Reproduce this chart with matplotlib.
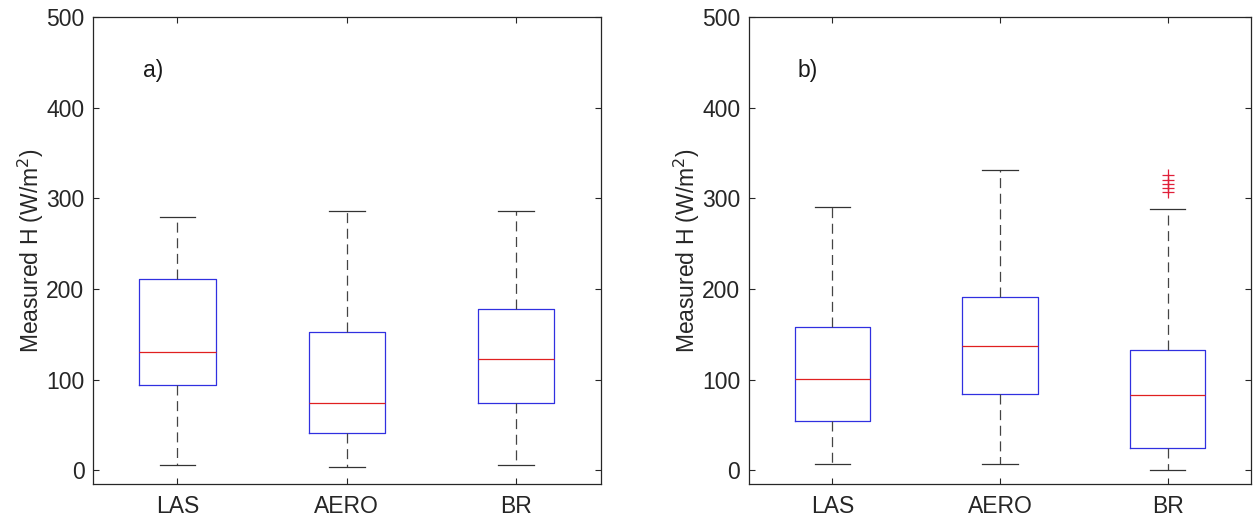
import matplotlib.pyplot as plt

plt.rcParams['font.family'] = ['Liberation Sans', 'DejaVu Sans']

methods = ['LAS', 'AERO', 'BR']

# panel a) five-number summaries
a_low = [6, 3, 6]
a_q1 = [94, 41.5, 74.5]
a_med = [130, 74, 123]
a_q3 = [210.5, 152, 178]
a_high = [279, 286, 286]
a_fliers = [[], [], []]

# panel b)
b_low = [7, 7, 0]
b_q1 = [54, 84.5, 24.5]
b_med = [100.5, 137.5, 83]
b_q3 = [157.5, 191, 132.5]
b_high = [290, 331.5, 288]
b_fliers = [[], [], [306.5, 311, 315.5, 320.5, 325.5]]

panel_tags = ['a)', 'b)']


def make_stats(low, q1, med, q3, high, fliers):
    stats = []
    for i, name in enumerate(methods):
        stats.append({'label': name, 'whislo': low[i], 'q1': q1[i],
                      'med': med[i], 'q3': q3[i], 'whishi': high[i],
                      'fliers': fliers[i]})
    return stats


fig = plt.figure(figsize=(12.54, 5.27), dpi=100)
ax_a = fig.add_axes([0.074, 0.082, 0.405, 0.886])
ax_b = fig.add_axes([0.597, 0.082, 0.401, 0.886])

panels = [
    (ax_a, make_stats(a_low, a_q1, a_med, a_q3, a_high, a_fliers), panel_tags[0]),
    (ax_b, make_stats(b_low, b_q1, b_med, b_q3, b_high, b_fliers), panel_tags[1]),
]

for ax, stats, tag in panels:
    ax.bxp(stats, widths=0.45, showfliers=True,
           boxprops=dict(color='#3030e0', linewidth=0.9),
           medianprops=dict(color='#e02020', linewidth=0.9),
           whiskerprops=dict(color='#444444', linewidth=0.9, linestyle=(0, (8, 4.5))),
           capprops=dict(color='#333333', linewidth=0.9),
           capwidths=0.21,
           flierprops=dict(marker='+', markeredgecolor='#e0203a', markersize=8,
                           markeredgewidth=0.9, linestyle='none'))
    ax.set_xlim(0.5, 3.5)
    ax.set_ylim(-15, 500)
    ax.set_yticks([0, 100, 200, 300, 400, 500])
    ax.set_ylabel('Measured H (W/m$^2$)', fontsize=16.5, color='#262626', labelpad=0)
    ax.text(0.855, 441, tag, fontsize=16.5, color='#1a1a1a', ha='center', va='center')
    ax.tick_params(direction='in', top=True, right=True, length=4, width=0.8,
                   labelsize=16.5, colors='#262626')
    ax.tick_params(axis='x', pad=8)
    ax.tick_params(axis='y', pad=6)
    for sp in ax.spines.values():
        sp.set_color('#262626')
        sp.set_linewidth(0.9)

fig.savefig('out.png', dpi=100)
